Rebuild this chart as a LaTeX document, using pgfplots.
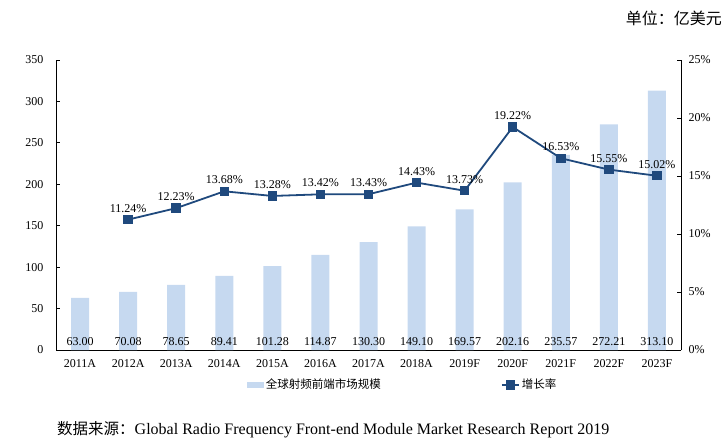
\documentclass[border=0pt]{standalone}
\usepackage{fontspec}
\setmainfont{Liberation Serif}
\newfontfamily\cjk{Noto Sans CJK SC}
\usepackage{pgfplots}
\pgfplotsset{compat=1.18}
\definecolor{barblue}{RGB}{198,217,240}
\definecolor{lineblue}{RGB}{31,73,125}
\begin{document}
\begin{tikzpicture}[x=1pt,y=1pt]
\useasboundingbox (0,0) rectangle (727,447);
\pgfplotsset{
  common/.style={
    at={(56pt,97pt)}, anchor=south west, scale only axis,
    width=625pt, height=290pt,
    xmin=-0.5, xmax=12.5,
    /pgf/number format/assume math mode=true,
    tick label style={font=\fontsize{12}{12}\selectfont, text=black},
    axis line style={-, black, line width=0.8pt},
    tick style={black, line width=0.8pt},
    major tick length=4pt, tick align=inside,
  }
}
\begin{axis}[common,
  ymin=0, ymax=350, ytick={0,50,...,350},
  axis x line*=bottom, axis y line*=left,
  xtick={0,...,12},
  xticklabels={2011A,2012A,2013A,2014A,2015A,2016A,2017A,2018A,2019F,2020F,2021F,2022F,2023F},
  x tick style={draw=none},
  extra x ticks={0.5,1.5,...,11.5}, extra x tick labels={},
  extra x tick style={tick style={black, line width=0.8pt, draw=black}, major tick length=4pt},
  xticklabel style={yshift=-6pt},
  yticklabel style={xshift=-9pt},
]
\addplot[ybar, bar width=18pt, fill=barblue, draw=none] coordinates {
(0,63.00) (1,70.08) (2,78.65) (3,89.41) (4,101.28) (5,114.87) (6,130.30)
(7,149.10) (8,169.57) (9,202.16) (10,235.57) (11,272.21) (12,313.10)};
\addplot[draw=none, mark=none, nodes near coords, point meta=explicit symbolic,
  nodes near coords style={anchor=south, font=\fontsize{12}{12}\selectfont, text=black, yshift=1pt}]
coordinates {
(0,0)[63.00] (1,0)[70.08] (2,0)[78.65] (3,0)[89.41] (4,0)[101.28] (5,0)[114.87] (6,0)[130.30]
(7,0)[149.10] (8,0)[169.57] (9,0)[202.16] (10,0)[235.57] (11,0)[272.21] (12,0)[313.10]};
\end{axis}
\begin{axis}[common,
  ymin=0, ymax=25, ytick={0,5,...,25},
  yticklabel={\pgfmathprintnumber{\tick}\%},
  axis x line=none, axis y line*=right,
  yticklabel style={xshift=4pt},
  legend columns=2,
  legend style={at={(0.555,-0.12)}, anchor=center, draw=none, fill=none,
    font=\cjk\fontsize{11.5}{11.5}\selectfont,
    /tikz/every even column/.append style={column sep=118pt}},
]
\addlegendimage{legend image code/.code={\fill[barblue] (0pt,-2.5pt) rectangle (16pt,2.5pt);}}
\addlegendentry{全球射频前端市场规模}
\addplot[lineblue, line width=1.8pt, mark=square*, mark size=3.8pt,
  nodes near coords, point meta=explicit symbolic,
  nodes near coords style={anchor=south, font=\fontsize{12}{12}\selectfont, text=black, yshift=3pt}]
coordinates {
(1,11.24)[11.24\%] (2,12.23)[12.23\%] (3,13.68)[13.68\%] (4,13.28)[13.28\%]
(5,13.42)[13.42\%] (6,13.43)[13.43\%] (7,14.43)[14.43\%] (8,13.73)[13.73\%]
(9,19.22)[19.22\%] (10,16.53)[16.53\%] (11,15.55)[15.55\%] (12,15.02)[15.02\%]};
\addlegendentry{增长率}
\end{axis}
\node[anchor=east, inner sep=0pt] at (722,429) {\cjk\fontsize{16}{16}\selectfont 单位：亿美元};
\node[anchor=west, inner sep=0pt] at (57,17) {{\cjk\fontsize{15.5}{15.5}\selectfont 数据来源：}\fontsize{16}{16}\selectfont Global Radio Frequency Front-end Module Market Research Report 2019};
\end{tikzpicture}
\end{document}
